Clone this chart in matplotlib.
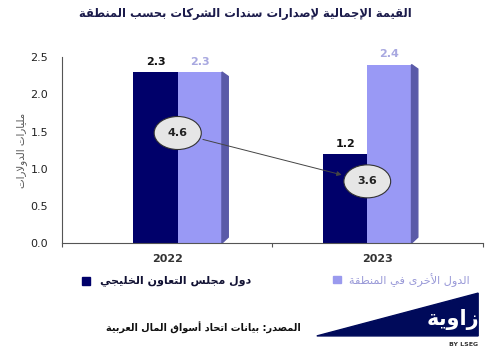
import matplotlib
matplotlib.use('Agg')
import matplotlib.pyplot as plt
from matplotlib.patches import Polygon, Rectangle

# data
years = ['2022', '2023']
gcc = [2.3, 1.2]
other = [2.3, 2.4]
totals = [a + b for a, b in zip(gcc, other)]

title = 'القيمة الإجمالية لإصدارات سندات الشركات بحسب المنطقة'
ylabel = 'مليارات الدولارات'
gcc_name = 'دول مجلس التعاون الخليجي'
other_name = 'الدول الأخرى في المنطقة'
source = 'المصدر: بيانات اتحاد أسواق المال العربية'
logo = 'زاوية'


def shape(text):
    # minimal Arabic shaping (presentation forms) + right-to-left order
    counts = [1, 2, 2, 2, 2, 4, 2, 4, 2, 4, 4, 4, 4, 4, 2, 2, 2, 2,
              4, 4, 4, 4, 4, 4, 4, 4] + [4, 4, 4, 4, 4, 4, 4, 2, 2, 4]
    letters = [chr(c) for c in range(0x621, 0x63B)] + [chr(c) for c in range(0x641, 0x64B)]
    forms = {}
    code = 0xFE80
    for ch, n in zip(letters, counts):
        forms[ch] = [chr(code + k) for k in range(n)]
        code += n
    lam_alef = {'\u0622': 0xFEF5, '\u0623': 0xFEF7, '\u0625': 0xFEF9, '\u0627': 0xFEFB}
    for a, c in lam_alef.items():
        forms['\u0644' + a] = [chr(c), chr(c + 1)]
    toks = []
    i = 0
    while i < len(text):
        if text[i] == '\u0644' and i + 1 < len(text) and text[i + 1] in lam_alef:
            toks.append(text[i:i + 2])
            i += 2
        else:
            toks.append(text[i])
            i += 1

    def joins(t):
        return t in forms and len(forms[t]) >= 2

    def dual(t):
        return t in forms and len(forms[t]) == 4

    out = []
    for k, t in enumerate(toks):
        if not joins(t):
            out.append(t)
            continue
        p = k > 0 and dual(toks[k - 1])
        n = k < len(toks) - 1 and dual(t) and joins(toks[k + 1])
        idx = 3 if (p and n) else 1 if p else 2 if n else 0
        out.append(forms[t][idx])
    return ''.join(out)[::-1]


plt.rcParams['font.family'] = ['DejaVu Sans']

fig = plt.figure(figsize=(4.95, 3.57), dpi=100)
ax = fig.add_axes([0.125, 0.319, 0.851, 0.521])

dark = '#00006a'
light = '#9999f5'
w = 0.21
shift = [0.05, -0.05]

for i in range(len(years)):
    xd = i + shift[i] - w / 2
    xl = i + shift[i] + w / 2
    ax.bar(xd, gcc[i], width=w, color=dark, zorder=2)
    ax.bar(xl, other[i], width=w, color=light, zorder=2)
    # side face on the light bar
    ax.add_patch(Polygon([(xl + w / 2, 0), (xl + w / 2 + 0.03, 0.08),
                          (xl + w / 2 + 0.03, other[i] - 0.06), (xl + w / 2, other[i])],
                         closed=True, color='#5a5aa8', zorder=2))
    ax.text(xd, gcc[i] + 0.07, f'{gcc[i]:.1f}', ha='center', va='bottom',
            fontsize=8, fontweight='bold', color='#111111')
    ax.text(xl, other[i] + 0.07, f'{other[i]:.1f}', ha='center', va='bottom',
            fontsize=8, fontweight='bold', color='#a8a8e0')

ell_y = [1.48, 0.83]
ell_x = [i + s for i, s in enumerate(shift)]
ebox = dict(boxstyle='ellipse,pad=0.6', fc='#e6e6e6', ec='#333333', lw=0.8)
ax.annotate(f'{totals[0]:.1f}', xy=(ell_x[1], ell_y[1]), xytext=(ell_x[0], ell_y[0]),
            ha='center', va='center', fontsize=8, fontweight='bold', color='#222222',
            bbox=ebox, zorder=5,
            arrowprops=dict(arrowstyle='-|>', color='#444444', lw=0.7,
                            mutation_scale=7, shrinkB=19))
ax.text(ell_x[1], ell_y[1], f'{totals[1]:.1f}', ha='center', va='center', fontsize=8,
        fontweight='bold', color='#222222', bbox=ebox, zorder=5)

ax.set_xlim(-0.5, 1.5)
ax.set_ylim(0, 2.5)
ax.set_yticks([0, 0.5, 1.0, 1.5, 2.0, 2.5])
ax.set_yticklabels([f'{v:.1f}' for v in [0, 0.5, 1.0, 1.5, 2.0, 2.5]])
ax.set_xticks([-0.5, 0.5, 1.5])
ax.set_xticklabels([])
ax.set_xticks([0, 1], minor=True)
ax.set_xticklabels(years, minor=True)
ax.tick_params(axis='x', which='major', length=3, color='#555555')
ax.tick_params(axis='x', which='minor', length=0, pad=8, labelsize=8, labelcolor='#333333')
ax.tick_params(axis='y', length=0, pad=10, labelsize=8, labelcolor='#222222')
for lab in ax.get_xticklabels(minor=True):
    lab.set_fontweight('bold')
ax.spines['top'].set_visible(False)
ax.spines['right'].set_visible(False)
ax.spines['left'].set_color('#555555')
ax.spines['bottom'].set_color('#555555')

fig.text(0.495, 0.962, shape(title), ha='center', va='center', fontsize=8.3,
         fontweight='bold', color='#1b1b4b')
fig.text(0.044, 0.58, shape(ylabel), ha='center', va='center', rotation=90,
         fontsize=7.4, color='#555555')

# legend
fig.patches.append(Rectangle((0.166, 0.203), 0.015, 0.021, transform=fig.transFigure,
                             color=dark, figure=fig))
fig.text(0.202, 0.213, shape(gcc_name), ha='left', va='center', fontsize=7.9,
         fontweight='bold', color='#111133')
fig.patches.append(Rectangle((0.673, 0.206), 0.015, 0.021, transform=fig.transFigure,
                             color='#9a9aee', figure=fig))
fig.text(0.705, 0.216, shape(other_name), ha='left', va='center', fontsize=8.1,
         color='#9a9ad8')

fig.text(0.607, 0.081, shape(source), ha='right', va='center', fontsize=7,
         fontweight='bold', color='#111111')

# logo
fig.patches.append(Polygon([(0.640, 0.059), (0.966, 0.179), (0.966, 0.059)], closed=True,
                           transform=fig.transFigure, color='#000a5a', figure=fig))
fig.text(0.968, 0.105, shape(logo), ha='right', va='center', fontsize=15,
         fontweight='bold', color='white')
fig.text(0.966, 0.034, 'BY LSEG', ha='right', va='center', fontsize=4.5,
         fontweight='bold', color='#333333')

fig.savefig('out.png', dpi=100, facecolor='white')
